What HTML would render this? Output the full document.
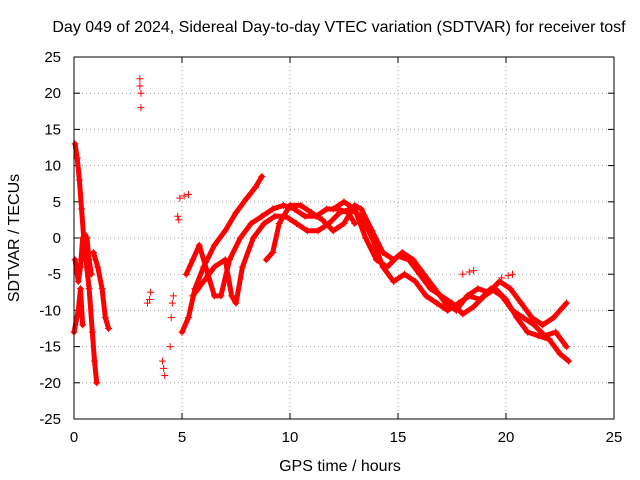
<!DOCTYPE html>
<html><head><meta charset="utf-8"><style>
body{margin:0;background:#fff;}
svg{display:block;font-family:"Liberation Sans",sans-serif;}
</style></head><body>
<svg id="chart" width="640" height="480" xmlns="http://www.w3.org/2000/svg">
<rect width="640" height="480" fill="#fff"/>
<text x="339" y="32" font-size="16" text-anchor="middle">Day 049 of 2024, Sidereal Day-to-day VTEC variation (SDTVAR) for receiver tosf</text>
<text x="340" y="471" font-size="16" text-anchor="middle">GPS time / hours</text>
<text transform="translate(19,238) rotate(-90)" font-size="16" text-anchor="middle">SDTVAR / TECUs</text>
<g id="grid"></g><g id="ticks"></g><g id="marks"></g>
<rect x="74" y="57" width="540" height="362" fill="none" stroke="#000" stroke-width="1"/>
</svg>
<script>
const xTicks=[0,5,10,15,20,25];
const yTicks=[-25,-20,-15,-10,-5,0,5,10,15,20,25];
const trackA=[[0.05,13],[0.15,11],[0.25,8],[0.35,4],[0.45,0],[0.55,-3],[0.7,-7],[0.85,-13],[0.95,-17],[1.05,-20]];
const trackB=[[0.05,-3],[0.2,-6],[0.3,-4],[0.4,0],[0.5,0.5],[0.6,0],[0.7,-3],[0.8,-5]];
const trackB2=[[0.0,-13],[0.2,-10],[0.3,-7],[0.4,-12]];
const trackC=[[0.9,-2],[1.1,-4],[1.3,-7],[1.45,-11],[1.6,-12.5]];
const isolated=[[3.05,22],[3.05,21],[3.1,20],[3.1,18],[3.4,-9],[3.5,-8.5],[3.55,-7.5],[4.1,-17],[4.15,-18],[4.2,-19],[4.45,-15],[4.5,-11],[4.55,-9],[4.6,-8],[4.8,3],[4.85,2.5],[4.9,5.5],[5.1,5.8],[5.3,6],[18,-5],[18.3,-4.7],[18.5,-4.5],[19.8,-5.5],[20.1,-5.2],[20.3,-5]];
const trackD=[[5.0,-13],[5.3,-11],[5.6,-7],[6.0,-4],[6.5,-1],[7,1],[7.5,3.5],[8,5.5],[8.4,7],[8.7,8.5]];
const trackE=[[5.2,-5],[5.5,-3],[5.8,-1],[6.2,-5],[6.5,-8],[6.8,-8],[7.2,-3],[7.7,0],[8.2,2],[8.7,3],[9.2,4],[9.7,4.5],[10.2,4],[10.7,3],[11.2,3],[11.7,4],[12.2,4],[12.7,3.5],[13,2]];
const trackF=[[5.5,-8],[6,-6],[6.5,-4],[7,-3],[7.3,-8],[7.5,-9],[7.8,-4],[8.3,0],[8.8,2],[9.3,3],[9.8,3],[10.3,2],[10.8,1],[11.3,1],[11.8,2],[12.3,3.5],[12.8,4],[13.3,3],[13.8,0],[14.3,-4],[14.8,-6],[15.3,-5],[15.8,-6],[16.3,-8],[16.8,-9],[17.3,-10],[17.8,-9],[18.3,-8],[18.8,-8.5],[19.3,-7],[19.8,-8],[20.3,-10],[20.8,-11],[21.3,-12],[21.8,-13.5],[22.3,-13],[22.8,-15]];
const trackG=[[8.9,-3],[9.2,-2],[9.5,2],[10,4.5],[10.5,4.5],[11,3.5],[11.5,2.5],[12,1],[12.5,2],[13,4.5],[13.3,4],[13.8,1],[14.3,-2],[14.8,-3],[15.2,-2],[15.7,-3],[16.2,-5],[16.7,-7],[17.2,-9],[17.7,-10],[18.2,-8],[18.7,-7],[19.2,-7.5],[19.7,-6],[20.2,-7],[20.7,-9],[21.2,-11],[21.7,-12],[22.2,-11],[22.8,-9]];
const trackH=[[12,4],[12.5,5],[13,4],[13.5,0],[14,-3],[14.5,-4],[15,-2.5],[15.5,-3],[16,-5],[16.5,-7],[17,-8],[17.5,-9],[18,-10.5],[18.5,-9.5],[19,-8],[19.5,-7],[20,-8.5],[20.5,-11],[21,-13],[21.5,-13.5],[22,-14],[22.5,-16],[22.9,-17]];
const tracks=[trackA,trackB,trackB2,trackC,trackD,trackE,trackF,trackG,trackH];

const NS="http://www.w3.org/2000/svg";
const X0=74,X1=614,Y0=419,Y1=57;
function sx(t){return X0+(t-0)/(25-0)*(X1-X0);}
function sy(v){return Y0-(v+25)/50*(Y0-Y1);}
function mk(tag,attrs,parent){const e=document.createElementNS(NS,tag);for(const k in attrs)e.setAttribute(k,attrs[k]);parent.appendChild(e);return e;}
const grid=document.getElementById('grid'),ticks=document.getElementById('ticks'),marks=document.getElementById('marks');
xTicks.forEach(t=>{const x=sx(t);
 if(t>0&&t<25){const g=mk('line',{x1:x,x2:x,y1:Y0,y2:Y1,stroke:'#a0a0a0','stroke-dasharray':'1,3'},grid);
 
 }
 mk('line',{x1:x,x2:x,y1:Y0,y2:Y0-6,stroke:'#000'},ticks);
 mk('line',{x1:x,x2:x,y1:Y1,y2:Y1+6,stroke:'#000'},ticks);
 const l=mk('text',{x:x,y:Y0+23,'font-size':15,'text-anchor':'middle'},ticks);l.textContent=t;
 
 });
yTicks.forEach(v=>{const y=sy(v);
 if(v>-25&&v<25){const g=mk('line',{x1:X0,x2:X1,y1:y,y2:y,stroke:'#a0a0a0','stroke-dasharray':'1,3'},grid);
 
 }
 mk('line',{x1:X0,x2:X0+6,y1:y,y2:y,stroke:'#000'},ticks);
 mk('line',{x1:X1,x2:X1-6,y1:y,y2:y,stroke:'#000'},ticks);
 const l=mk('text',{x:X0-13,y:y+5,'font-size':15,'text-anchor':'end'},ticks);l.textContent=v;
 
 });
function plus(t,v,parent){const x=sx(t),y=sy(v);
 const p=mk('path',{d:`M${x-3.5},${y}H${x+3.5}M${x},${y-3.5}V${y+3.5}`,stroke:'#ff0000','stroke-width':1,fill:'none'},parent);
 
 }
tracks.forEach((tr,i)=>{
 const pl=mk('polyline',{points:tr.map(p=>sx(p[0])+','+sy(p[1])).join(' '),fill:'none',stroke:'#ff0000','stroke-width':5,'stroke-linejoin':'round','stroke-linecap':'round'},marks);
 
 
 tr.forEach(p=>plus(p[0],p[1],marks));});
isolated.forEach(p=>plus(p[0],p[1],marks));
</script>
</body></html>
